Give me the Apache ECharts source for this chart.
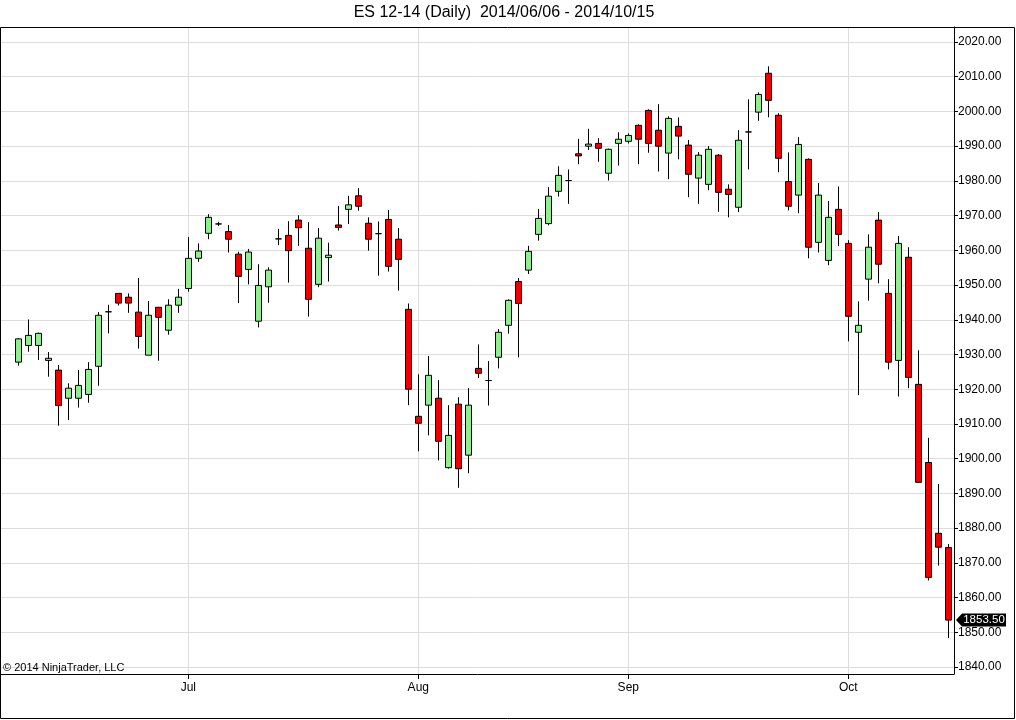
<!DOCTYPE html>
<html><head><meta charset="utf-8">
<script src="https://cdn.jsdelivr.net/npm/echarts@6/dist/echarts.min.js"></script>
<style>html,body{margin:0;padding:0;background:#fff}#c{width:1016px;height:720px}</style>
</head><body><div id="c"></div>
<script>
const opens  = [1927.8,1932.6,1932.6,1928.3,1925.5,1917.4,1917.4,1918.5,1926.6,1942.3,
                1947.6,1946.5,1942.2,1929.8,1943.6,1937.0,1944.2,1949.0,1957.7,1964.9,
                1967.6,1965.4,1958.9,1954.5,1939.6,1949.5,1963.3,1964.3,1968.7,1960.6,
                1950.2,1957.9,1967.3,1971.8,1975.7,1967.8,1964.8,1968.9,1963.2,1943.0,
                1912.2,1915.4,1917.4,1897.4,1915.7,1901.0,1926.0,1922.5,1929.2,1938.4,
                1951.0,1954.3,1964.6,1967.7,1977.0,1980.1,1987.8,1990.0,1990.8,1982.2,
                1990.8,1991.4,1996.0,2000.3,1994.6,1988.0,1995.7,1990.3,1980.8,1979.0,
                1987.4,1977.6,1972.4,1994.1,1999.8,2011.0,1998.9,1979.8,1975.9,1986.2,
                1962.3,1957.1,1971.8,1962.0,1936.4,1951.7,1968.7,1947.6,1928.3,1958.0,
                1921.4,1898.9,1878.5,1874.4];
const closes = [1934.5,1935.5,1936.1,1928.9,1915.3,1920.3,1921.1,1925.7,1941.3,1942.3,
                1944.8,1944.8,1935.2,1941.3,1940.7,1944.2,1946.5,1957.7,1959.8,1969.5,
                1967.6,1963.2,1952.5,1959.5,1949.9,1954.3,1963.3,1959.9,1966.5,1945.9,
                1963.5,1958.6,1966.6,1973.1,1972.7,1963.2,1964.8,1955.4,1957.4,1920.0,
                1910.2,1924.0,1905.0,1906.7,1897.1,1915.4,1924.6,1922.5,1936.4,1945.6,
                1944.7,1959.7,1969.2,1975.6,1981.6,1980.1,1987.2,1990.6,1989.4,1989.1,
                1992.0,1993.1,1992.0,1990.8,1990.0,1998.0,1992.9,1981.9,1987.4,1989.1,
                1976.7,1976.1,1991.7,1994.1,2004.9,2003.2,1986.5,1972.7,1990.5,1960.9,
                1975.9,1969.5,1964.6,1941.0,1938.4,1960.9,1956.0,1927.8,1962.0,1923.4,
                1893.2,1865.8,1874.5,1853.5];
const lows   = [1926.8,1930.8,1928.4,1923.6,1909.5,1911.1,1914.7,1916.1,1921.0,1936.1,
                1944.1,1942.0,1931.7,1929.8,1928.2,1935.7,1942.0,1948.1,1956.7,1963.2,
                1967.0,1959.4,1944.8,1950.2,1937.8,1944.9,1961.5,1950.7,1961.3,1940.9,
                1949.4,1951.0,1965.7,1967.6,1971.4,1959.9,1952.7,1953.9,1948.4,1915.4,
                1902.1,1906.7,1899.5,1897.1,1891.6,1895.8,1923.2,1915.3,1926.0,1936.0,
                1929.2,1953.2,1962.8,1967.2,1975.5,1973.4,1984.8,1988.9,1985.5,1980.1,
                1984.4,1990.8,1984.8,1988.1,1982.7,1980.5,1986.2,1975.3,1973.4,1977.3,
                1971.1,1969.5,1971.0,1983.3,1997.3,1998.3,1982.5,1971.5,1970.7,1957.7,
                1959.4,1955.7,1961.2,1933.8,1918.3,1945.5,1950.5,1925.7,1917.9,1920.3,
                1893.0,1864.9,1869.2,1848.3];
const highs  = [1934.7,1940.1,1936.3,1930.7,1927.0,1921.7,1925.5,1927.8,1942.2,1944.3,
                1947.6,1947.6,1952.0,1945.4,1943.6,1945.9,1948.9,1963.8,1962.0,1970.4,
                1968.2,1967.3,1959.6,1960.4,1956.0,1955.1,1966.2,1968.4,1970.1,1968.1,
                1966.4,1962.2,1972.8,1975.7,1977.9,1969.5,1968.3,1971.6,1966.4,1944.7,
                1924.3,1929.6,1922.6,1915.4,1917.7,1920.3,1932.9,1928.1,1937.3,1945.9,
                1952.0,1961.3,1971.9,1978.2,1984.2,1983.3,1992.1,1995.0,1992.3,1989.3,
                1994.0,1993.7,1996.3,2000.6,2002.1,1998.6,1998.3,1991.8,1988.3,1990.0,
                1987.7,1979.0,1994.6,2003.5,2005.5,2013.0,1999.5,1988.2,1992.6,1986.5,
                1979.4,1974.2,1978.4,1962.9,1945.3,1964.6,1971.0,1951.7,1964.1,1960.9,
                1931.2,1906.0,1892.7,1875.4];
const monthTickIdx = [17, 40, 61, 83];
const monthLabels  = ['Jul', 'Aug', 'Sep', 'Oct'];
const yTickMin = 1840, yTickMax = 2020, yTickStep = 10;
const titleText = 'ES 12-14 (Daily)  2014/06/06 - 2014/10/15';
const copyrightText = '\u00A9 2014 NinjaTrader, LLC';

const FONT = "'Liberation Sans', Arial, sans-serif";
const rows = opens.map((o, i) => [i, o, closes[i], lows[i], highs[i]]);
const lastPrice = closes[closes.length - 1];

const chart = echarts.init(document.getElementById('c'), null, {renderer: 'canvas'});
const option = {
  animation: false,
  backgroundColor: '#fff',
  dataset: {dimensions: ['idx', 'open', 'close', 'lowest', 'highest'], source: rows},
  grid: [
    {left: 1, right: 62, top: 27, bottom: 46, containLabel: false},
    {left: 1, right: 62, top: 42, bottom: 53, containLabel: false}
  ],
  xAxis: [
    {
      type: 'value', gridIndex: 0, min: -1.73, max: 93.57,
      axisLine: {show: true, onZero: false, lineStyle: {color: '#000', width: 1}},
      axisTick: {show: true, customValues: monthTickIdx, length: 5, lineStyle: {color: '#000'}},
      axisLabel: {
        show: true, customValues: monthTickIdx, color: '#000', fontSize: 12, fontFamily: FONT, margin: 8,
        formatter: v => monthLabels[monthTickIdx.indexOf(Math.round(v))] || ''
      },
      splitLine: {show: true, lineStyle: {color: '#dddddd', width: 1}}
    },
    {type: 'value', gridIndex: 1, min: 0, max: 1, show: false,
     axisLine: {show: false, onZero: false}, splitLine: {show: false}}
  ],
  yAxis: [
    {
      type: 'value', gridIndex: 0, position: 'right', min: 1837.98, max: 2024.32,
      axisLine: {show: true, onZero: false, lineStyle: {color: '#000', width: 1}},
      axisTick: {show: false}, axisLabel: {show: false}, splitLine: {show: false}
    },
    {
      type: 'value', gridIndex: 1, position: 'right', min: yTickMin, max: yTickMax, interval: yTickStep,
      axisLine: {show: false, onZero: false},
      axisTick: {show: true, length: 4, lineStyle: {color: '#000'}},
      axisLabel: {show: true, color: '#000', fontSize: 12, fontFamily: FONT, margin: 4,
                  formatter: v => v.toFixed(2)},
      splitLine: {show: true, lineStyle: {color: '#dddddd', width: 1}}
    }
  ],
  series: [{
    type: 'candlestick', xAxisIndex: 0, yAxisIndex: 0,
    encode: {x: 'idx', y: ['open', 'close', 'lowest', 'highest']},
    barWidth: 7,
    itemStyle: {
      color: '#90EE90', color0: '#F00000',
      borderColor: '#000', borderColor0: '#000', borderColorDoji: '#000', borderWidth: 1
    },
    z: 5
  }],
  graphic: [
    {type: 'rect', shape: {x: 0.5, y: 27.5, width: 1014, height: 691}, style: {fill: 'none', stroke: '#000', lineWidth: 1}, silent: true, z: 100},
    {type: 'text', x: 504, y: 13, style: {text: titleText, fill: '#000', font: '16px ' + FONT, textAlign: 'center', textVerticalAlign: 'middle'}, z: 100},
    {type: 'text', x: 3, y: 668, style: {text: copyrightText, fill: '#000', font: '11px ' + FONT, textAlign: 'left', textVerticalAlign: 'middle'}, z: 100}
  ]
};
chart.setOption(option);

const py = chart.convertToPixel({yAxisIndex: 0}, lastPrice);
chart.setOption({graphic: option.graphic.concat([
  {type: 'polygon', shape: {points: [[956, py], [962, py - 6.5], [1006, py - 6.5], [1006, py + 6.5], [962, py + 6.5]]},
   style: {fill: '#000'}, z: 101},
  {type: 'text', x: 984, y: py, style: {text: lastPrice.toFixed(2), fill: '#fff', font: '11.5px ' + FONT, textAlign: 'center', textVerticalAlign: 'middle'}, z: 102}
])});
</script></body></html>
